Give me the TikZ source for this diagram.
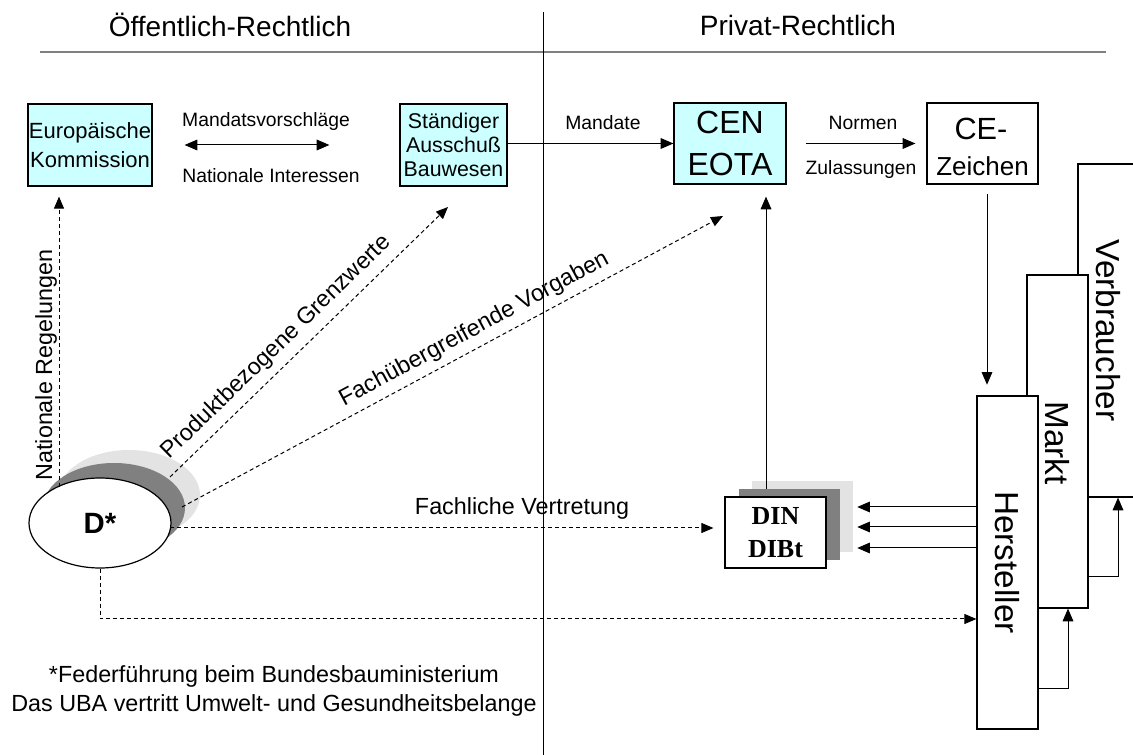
\documentclass[tikz,border=0pt]{standalone}
\usepackage{fontspec}
\setmainfont{Liberation Sans}
\newfontfamily\dinfont{Liberation Serif}
\usetikzlibrary{arrows.meta,shapes.geometric}
\definecolor{cyanbox}{HTML}{CCFFFF}
\definecolor{dgray}{HTML}{808080}
\definecolor{lgray}{HTML}{E3E3E3}
\begin{document}
\begin{tikzpicture}[x=0.75pt,y=-0.75pt,
  box/.style={draw=black,line width=0.9pt,inner sep=0pt,align=center},
  tip/.style={-{Triangle[length=9.5pt,width=8pt]},line width=0.75pt},
  twotip/.style={{Triangle[length=9.5pt,width=8pt]}-{Triangle[length=9.5pt,width=8pt]},line width=0.75pt},
  dtip/.style={-{Triangle[length=9pt,width=7.5pt]},line width=0.75pt,dash pattern=on 3pt off 2.25pt},
  lbl/.style={inner sep=0pt,font=\fontsize{14.5}{14.5}\selectfont},
  biglbl/.style={inner sep=2pt,font=\fontsize{17.5}{17.5}\selectfont},
  hdr/.style={inner sep=0pt,font=\fontsize{21}{21}\selectfont},
  vbox/.style={box,fill=white,minimum width=45.75pt,minimum height=249.75pt},
  vtext/.style={rotate=-90,inner sep=0pt,font=\fontsize{25}{25}\selectfont},
  shade/.style={inner sep=0pt,minimum width=75.75pt,minimum height=53.25pt},
  oval/.style={ellipse,inner sep=0pt,minimum width=106.5pt,minimum height=67.5pt},
]
\useasboundingbox (0,0) rectangle (1133,755);
\clip (0,0) rectangle (1133,755);

% headers
\node[hdr] (h1) at (230,25) {Öffentlich-Rechtlich};
\node[hdr] (h2) at (798,25) {Privat-Rechtlich};
\coordinate (hl) at (40,52);
\coordinate (hr) at (1106,52);
\draw[dgray,line width=1.5pt] (hl) -- (hr);
\coordinate (vt) at (543,12);
\coordinate (vb) at (543,755);
\draw[line width=0.75pt] (vt) -- (vb);

% top boxes
\node[box,fill=cyanbox,minimum width=93pt,minimum height=61.5pt,font=\fontsize{16.5}{21.75}\selectfont] (eu) at (90,145) {Europäische\\Kommission};
\node[box,fill=cyanbox,minimum width=80.25pt,minimum height=61.5pt,font=\fontsize{16}{18}\selectfont] (st) at (453.5,145) {Ständiger\\Ausschuß\\Bauwesen};
\node[box,fill=cyanbox,minimum width=84pt,minimum height=60.75pt,font=\fontsize{24}{31.5}\selectfont] (cen) at (730,143.5) {CEN\\EOTA};
\node[box,minimum width=83.25pt,minimum height=60.75pt] (ce) at (982.5,143.5) {};
\node[inner sep=0pt,font=\fontsize{23}{23}\selectfont] (ce1) at (981,129) {CE-};
\node[inner sep=0pt,font=\fontsize{19.5}{19.5}\selectfont] (ce2) at (982.5,166) {Zeichen};

% top arrows and labels
\draw[twotip,shorten <=24pt,shorten >=52.5pt] (eu.east) -- (st.west);
\node[lbl] (mv) at (266,122) {Mandatsvorschläge};
\node[lbl] (ni) at (271,176) {Nationale Interessen};
\draw[tip] (st.east |- cen.west) -- (cen.west);
\node[lbl] (ma) at (603,123) {Mandate};
\draw[tip,shorten <=14.25pt,shorten >=8.25pt] (cen.east) -- (ce.west);
\node[lbl] (no) at (863,123) {Normen};
\node[lbl] (zu) at (861,170) {Zulassungen};

% right stacked boxes
\node[vbox] (ver) at (1108.5,330.5) {};
\node[vtext] (vert) at (ver.center) {Verbraucher};
\node[vbox] (mar) at (1057.5,441.5) {};
\node[vtext] (mart) at (1057,443) {Markt};
\node[vbox] (her) at (1007.5,562.5) {};
\node[vtext] (hert) at (her.center) {Hersteller};

\coordinate (cea) at (987,184);
\draw[tip,shorten <=7.5pt,shorten >=8pt] (cea) -- (cea |- her.north);
\coordinate (b1) at (1068,689);
\draw[tip] (her.east |- b1) -- (b1) -- (b1 |- mar.south);
\coordinate (b2) at (1118,577);
\draw[tip] (mar.east |- b2) -- (b2) -- (b2 |- ver.south);

% DIN stack
\node[shade,fill=lgray] (dinl) at (802.5,516.5) {};
\node[shade,fill=dgray] (dind) at (789.5,524.5) {};
\node[box,shade,fill=white,font=\dinfont\bfseries\fontsize{19.5}{24.75}\selectfont] (din) at (775.5,532.5) {DIN\\DIBt};
\coordinate (dv) at (766,489);
\draw[tip,shorten >=9pt] (dv) -- (dv |- cen.south);
\coordinate (ya) at (0,507);
\coordinate (yb) at (0,527);
\coordinate (yc) at (0,548);
\draw[tip,shorten >=3pt] (her.west |- ya) -- (dinl.east |- ya);
\draw[tip,shorten >=3pt] (her.west |- yb) -- (dinl.east |- yb);
\draw[tip,shorten >=3pt] (her.west |- yc) -- (dinl.east |- yc);

% D* ellipse
\node[oval,fill=lgray] (dl) at (129,495) {};
\node[oval,fill=dgray] (dd) at (114,508) {};
\node[oval,draw,fill=white,line width=0.9pt,font=\bfseries\fontsize{22}{22}\selectfont] (d) at (100,523) {D*};

% dashed connectors
\coordinate (n1) at (59,487);
\draw[dtip,shorten >=7.5pt] (n1) -- (n1 |- eu.south);
\node[biglbl,rotate=90] (nrl) at (46,365) {Nationale Regelungen};
\coordinate (p1) at (170,477);
\coordinate (p2) at (448,207);
\draw[dtip] (p1) -- node[pos=0.43,sloped,above=3.5pt,biglbl] (pgl) {Produktbezogene Grenzwerte} (p2);
\coordinate (f1) at (182,507);
\coordinate (f2) at (723,216);
\draw[dtip] (f1) -- node[pos=0.556,sloped,above=3pt,biglbl] (fvl) {Fachübergreifende Vorgaben} (f2);
\coordinate (fl) at (170,528);
\draw[dtip,shorten >=8.25pt] (fl) -- (din.west |- fl);
\node[biglbl] (fvt) at (522,508) {Fachliche Vertretung};
\coordinate (hb) at (100,619);
\draw[dtip] (d.south) -- (d.south |- hb) -- (her.west |- hb);

% footer
\node[align=center,inner sep=0pt,font=\fontsize{17.5}{21.75}\selectfont] (foot) at (274,691) {*Federführung beim Bundesbauministerium\\Das UBA vertritt Umwelt- und Gesundheitsbelange};
\end{tikzpicture}
\end{document}
